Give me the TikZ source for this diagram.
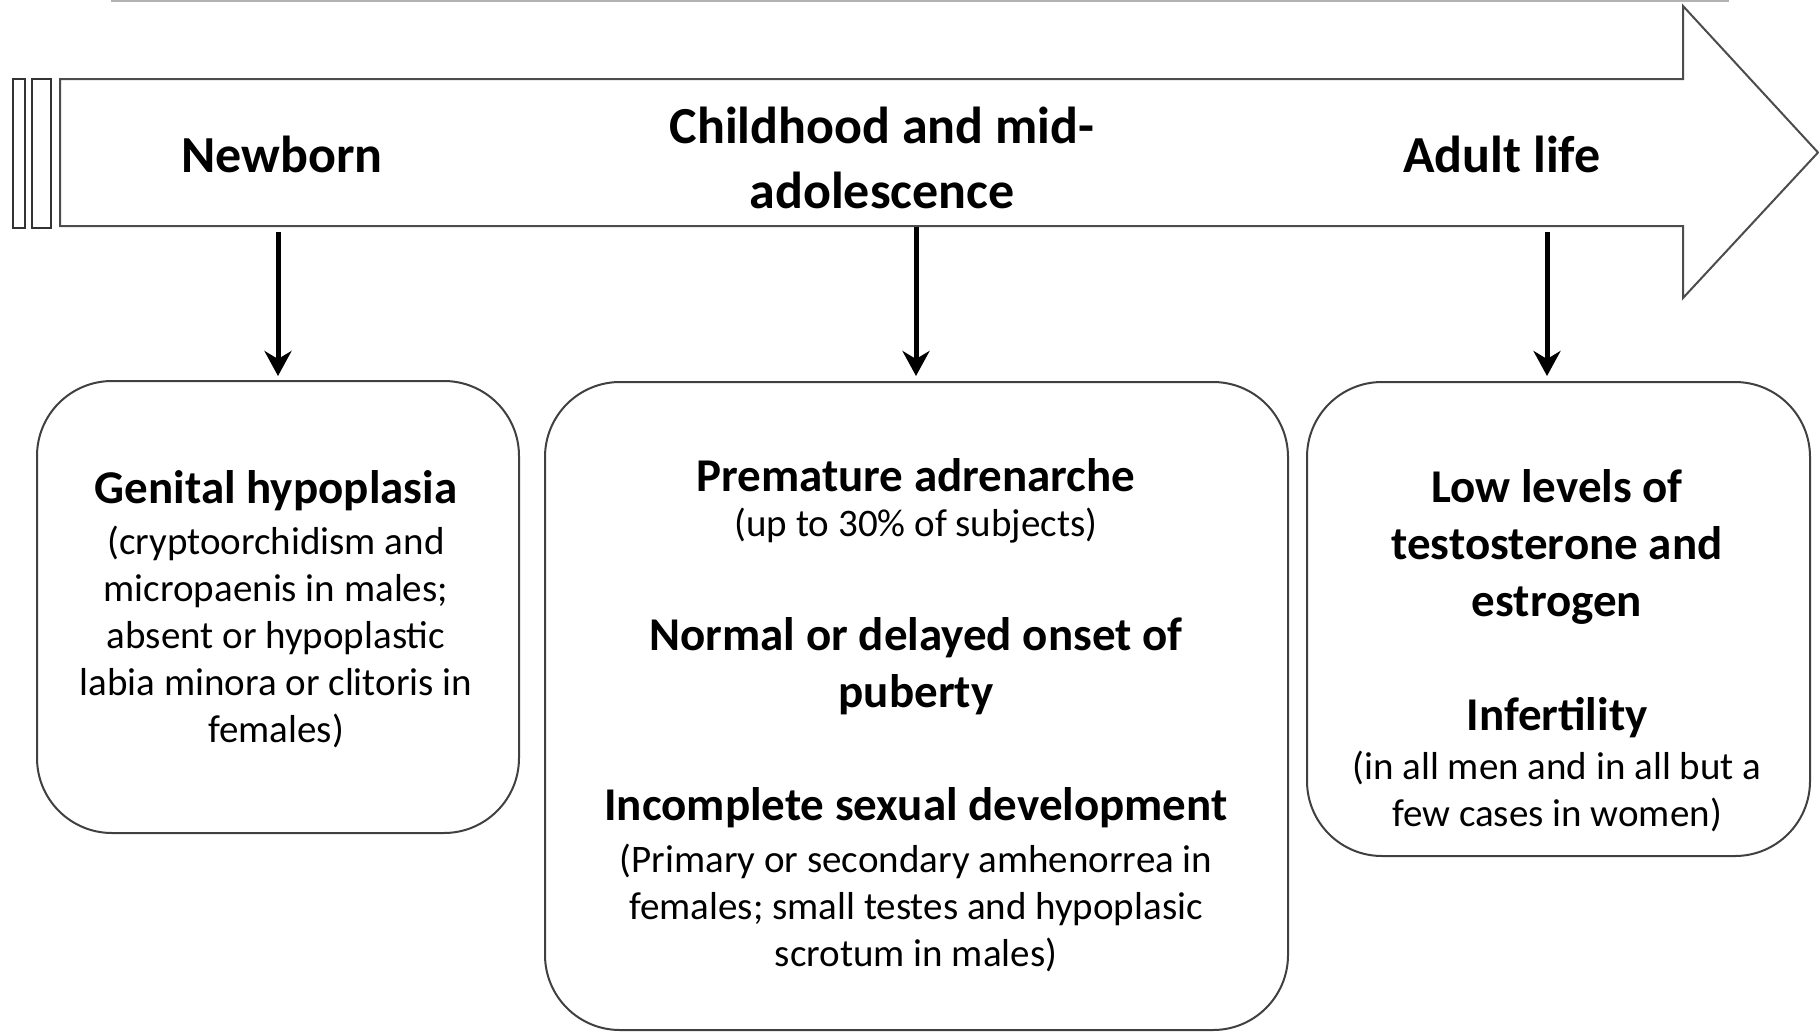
\documentclass[tikz,border=0pt]{standalone}
\usepackage{fontspec}
\setmainfont{Carlito}
\usetikzlibrary{arrows.meta}
\tikzset{
  lab/.style={font=\fontsize{52}{65}\selectfont\bfseries, align=center, inner sep=0pt},
  hd/.style={font=\fontsize{47}{57}\selectfont\bfseries, align=center, inner sep=0pt},
  bd/.style={font=\fontsize{39}{47}\selectfont, align=center, inner sep=0pt},
  box/.style={draw=black!75, line width=2pt, rounded corners=75pt, inner sep=0pt},
  shaft/.style={draw=black!70, line width=2pt, fill=white, line join=miter},
  down/.style={-{Stealth[length=25pt,width=27pt,inset=8pt]}, line width=5pt, black}
}
\begin{document}
\begin{tikzpicture}[x=1pt,y=-1pt]
\useasboundingbox (0,0) rectangle (1819,1033);
% top thin line
\coordinate (tl) at (111,1);
\coordinate (tr) at (1729,1);
\draw[black!30, line width=2pt] (tl) -- (tr);
% double bars
\draw[black!80, line width=1.6pt] (13,79) rectangle (25,228);
\draw[black!80, line width=1.6pt] (32,79) rectangle (51,228);
% big arrow
\draw[shaft] (60,79) -- (1683,79) -- (1683,6) -- (1818,152.5) -- (1683,298) -- (1683,226) -- (60,226) -- cycle;
% labels
\node[lab] (newborn) at (282,154) {Newborn};
\node[lab] (child) at (882,158) {Childhood and mid-\\adolescence};
\node[lab] (adult) at (1502,154) {Adult life};
% boxes
\node[box, minimum width=482pt, minimum height=452pt] (b1) at (278,607) {};
\node[box, minimum width=743pt, minimum height=648pt] (b2) at (916.5,706) {};
\node[box, minimum width=503pt, minimum height=474pt] (b3) at (1558.5,619) {};
% arrows
\coordinate (s1) at (278,232);
\coordinate (s2) at (916,227);
\coordinate (s3) at (1547,232);
\coordinate (e1) at (278,376);
\coordinate (e2) at (916,376);
\coordinate (e3) at (1547,376);
\draw[down] (s1) -- (e1);
\draw[down] (s2) -- (e2);
\draw[down] (s3) -- (e3);
% box 1
\node[hd] (g1) at (276,491) {Genital hypoplasia};
\node[bd] (g2) at (276,637) {(cryptoorchidism and\\micropaenis in males;\\absent or hypoplastic\\labia minora or clitoris in\\females)};
% box 2
\node[hd] (p1) at (916,475) {Premature adrenarche};
\node[bd] (p2) at (916,526) {(up to 30\% of subjects)};
\node[hd] (p3) at (916,666) {Normal or delayed onset of\\puberty};
\node[hd] (p4) at (916,808) {Incomplete sexual development};
\node[bd] (p5) at (916,908) {(Primary or secondary amhenorrea in\\females; small testes and hypoplasic\\scrotum in males)};
% box 3
\node[hd] (l1) at (1557,547) {Low levels of\\testosterone and\\estrogen};
\node[hd] (l2) at (1557,718) {Infertility};
\node[bd] (l3) at (1557,791) {(in all men and in all but a\\few cases in women)};
\end{tikzpicture}
\end{document}
